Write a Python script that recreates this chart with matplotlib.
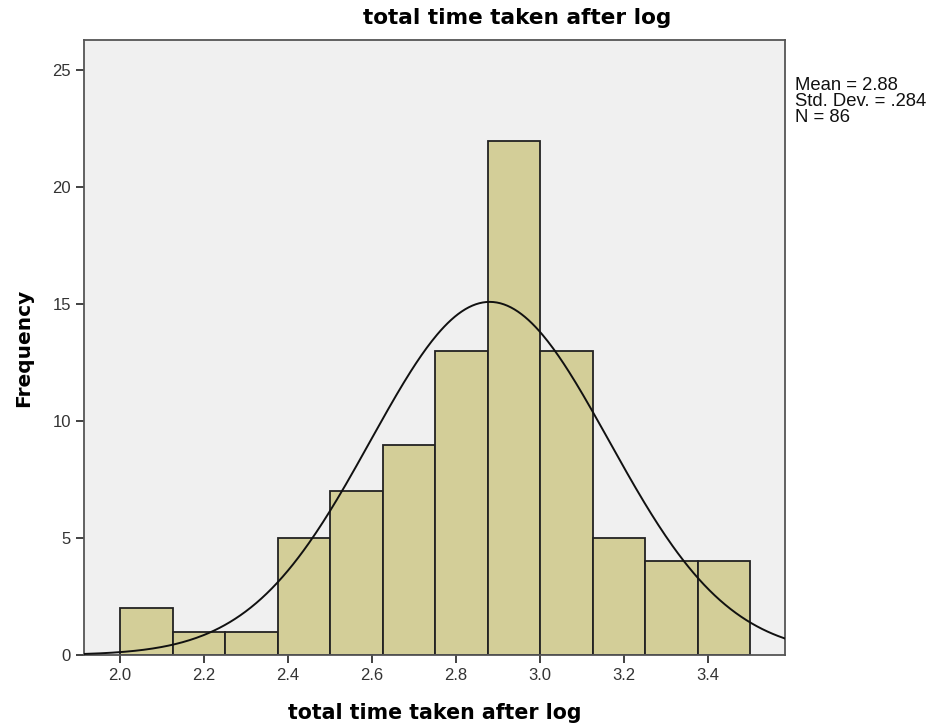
import numpy as np
import matplotlib
matplotlib.use("Agg")
import matplotlib.pyplot as plt

# histogram bins
BIN_EDGES = [2.0, 2.125, 2.25, 2.375, 2.5, 2.625, 2.75, 2.875, 3.0, 3.125, 3.25, 3.375, 3.5]
COUNTS = [2, 1, 1, 5, 7, 9, 13, 22, 13, 5, 4, 4]

# summary shown in the legend box
MEAN = 2.88
STD = 0.284
N = 86

X_TICKS = [2.0, 2.2, 2.4, 2.6, 2.8, 3.0, 3.2, 3.4]
Y_TICKS = [0, 5, 10, 15, 20, 25]

fig = plt.figure(figsize=(9.29, 7.27), dpi=100)
ax = fig.add_axes([0.0904, 0.099, 0.7546, 0.846])
ax.set_facecolor("#f0f0f0")

edges = np.array(BIN_EDGES)
widths = np.diff(edges)
ax.bar(edges[:-1], COUNTS, width=widths, align="edge",
       color="#d3ce98", edgecolor="#222222", linewidth=1.3, zorder=2)

# normal curve from the stated mean / sd, scaled to counts
xmin, xmax = 1.914, 3.583
xs = np.linspace(xmin, xmax, 400)
bw = widths[0]
ys = N * bw / (STD * np.sqrt(2 * np.pi)) * np.exp(-0.5 * ((xs - MEAN) / STD) ** 2)
ax.plot(xs, ys, color="#111111", lw=1.4, zorder=3)

ax.set_xlim(xmin, xmax)
ax.set_ylim(0, 26.3)
ax.set_xticks(X_TICKS)
ax.set_xticklabels([f"{v:.1f}" for v in X_TICKS])
ax.set_yticks(Y_TICKS)

for s in ax.spines.values():
    s.set_color("#555555")
    s.set_linewidth(1.3)
ax.tick_params(direction="out", length=6, width=1.3, color="#333333",
               labelsize=12, labelcolor="#333333")
for lab in ax.get_xticklabels() + ax.get_yticklabels():
    lab.set_fontfamily("Liberation Sans")

fig.text(0.557, 0.975, "total time taken after log", fontsize=15.6, fontweight="bold",
         fontfamily="DejaVu Sans", ha="center", va="center")
ax.set_xlabel("total time taken after log", fontsize=14.8, fontweight="bold",
              fontfamily="DejaVu Sans", labelpad=14)
ax.set_ylabel("Frequency", fontsize=14.5, fontweight="bold",
              fontfamily="DejaVu Sans", labelpad=14)

fig.text(0.856, 0.894, f"Mean = {MEAN:.2f}\nStd. Dev. = .{int(round(STD * 1000))}\nN = {N}",
         fontsize=13.3, fontfamily="Liberation Sans", va="top", ha="left",
         linespacing=0.92, color="#111111")

fig.savefig("out.png", dpi=100)
